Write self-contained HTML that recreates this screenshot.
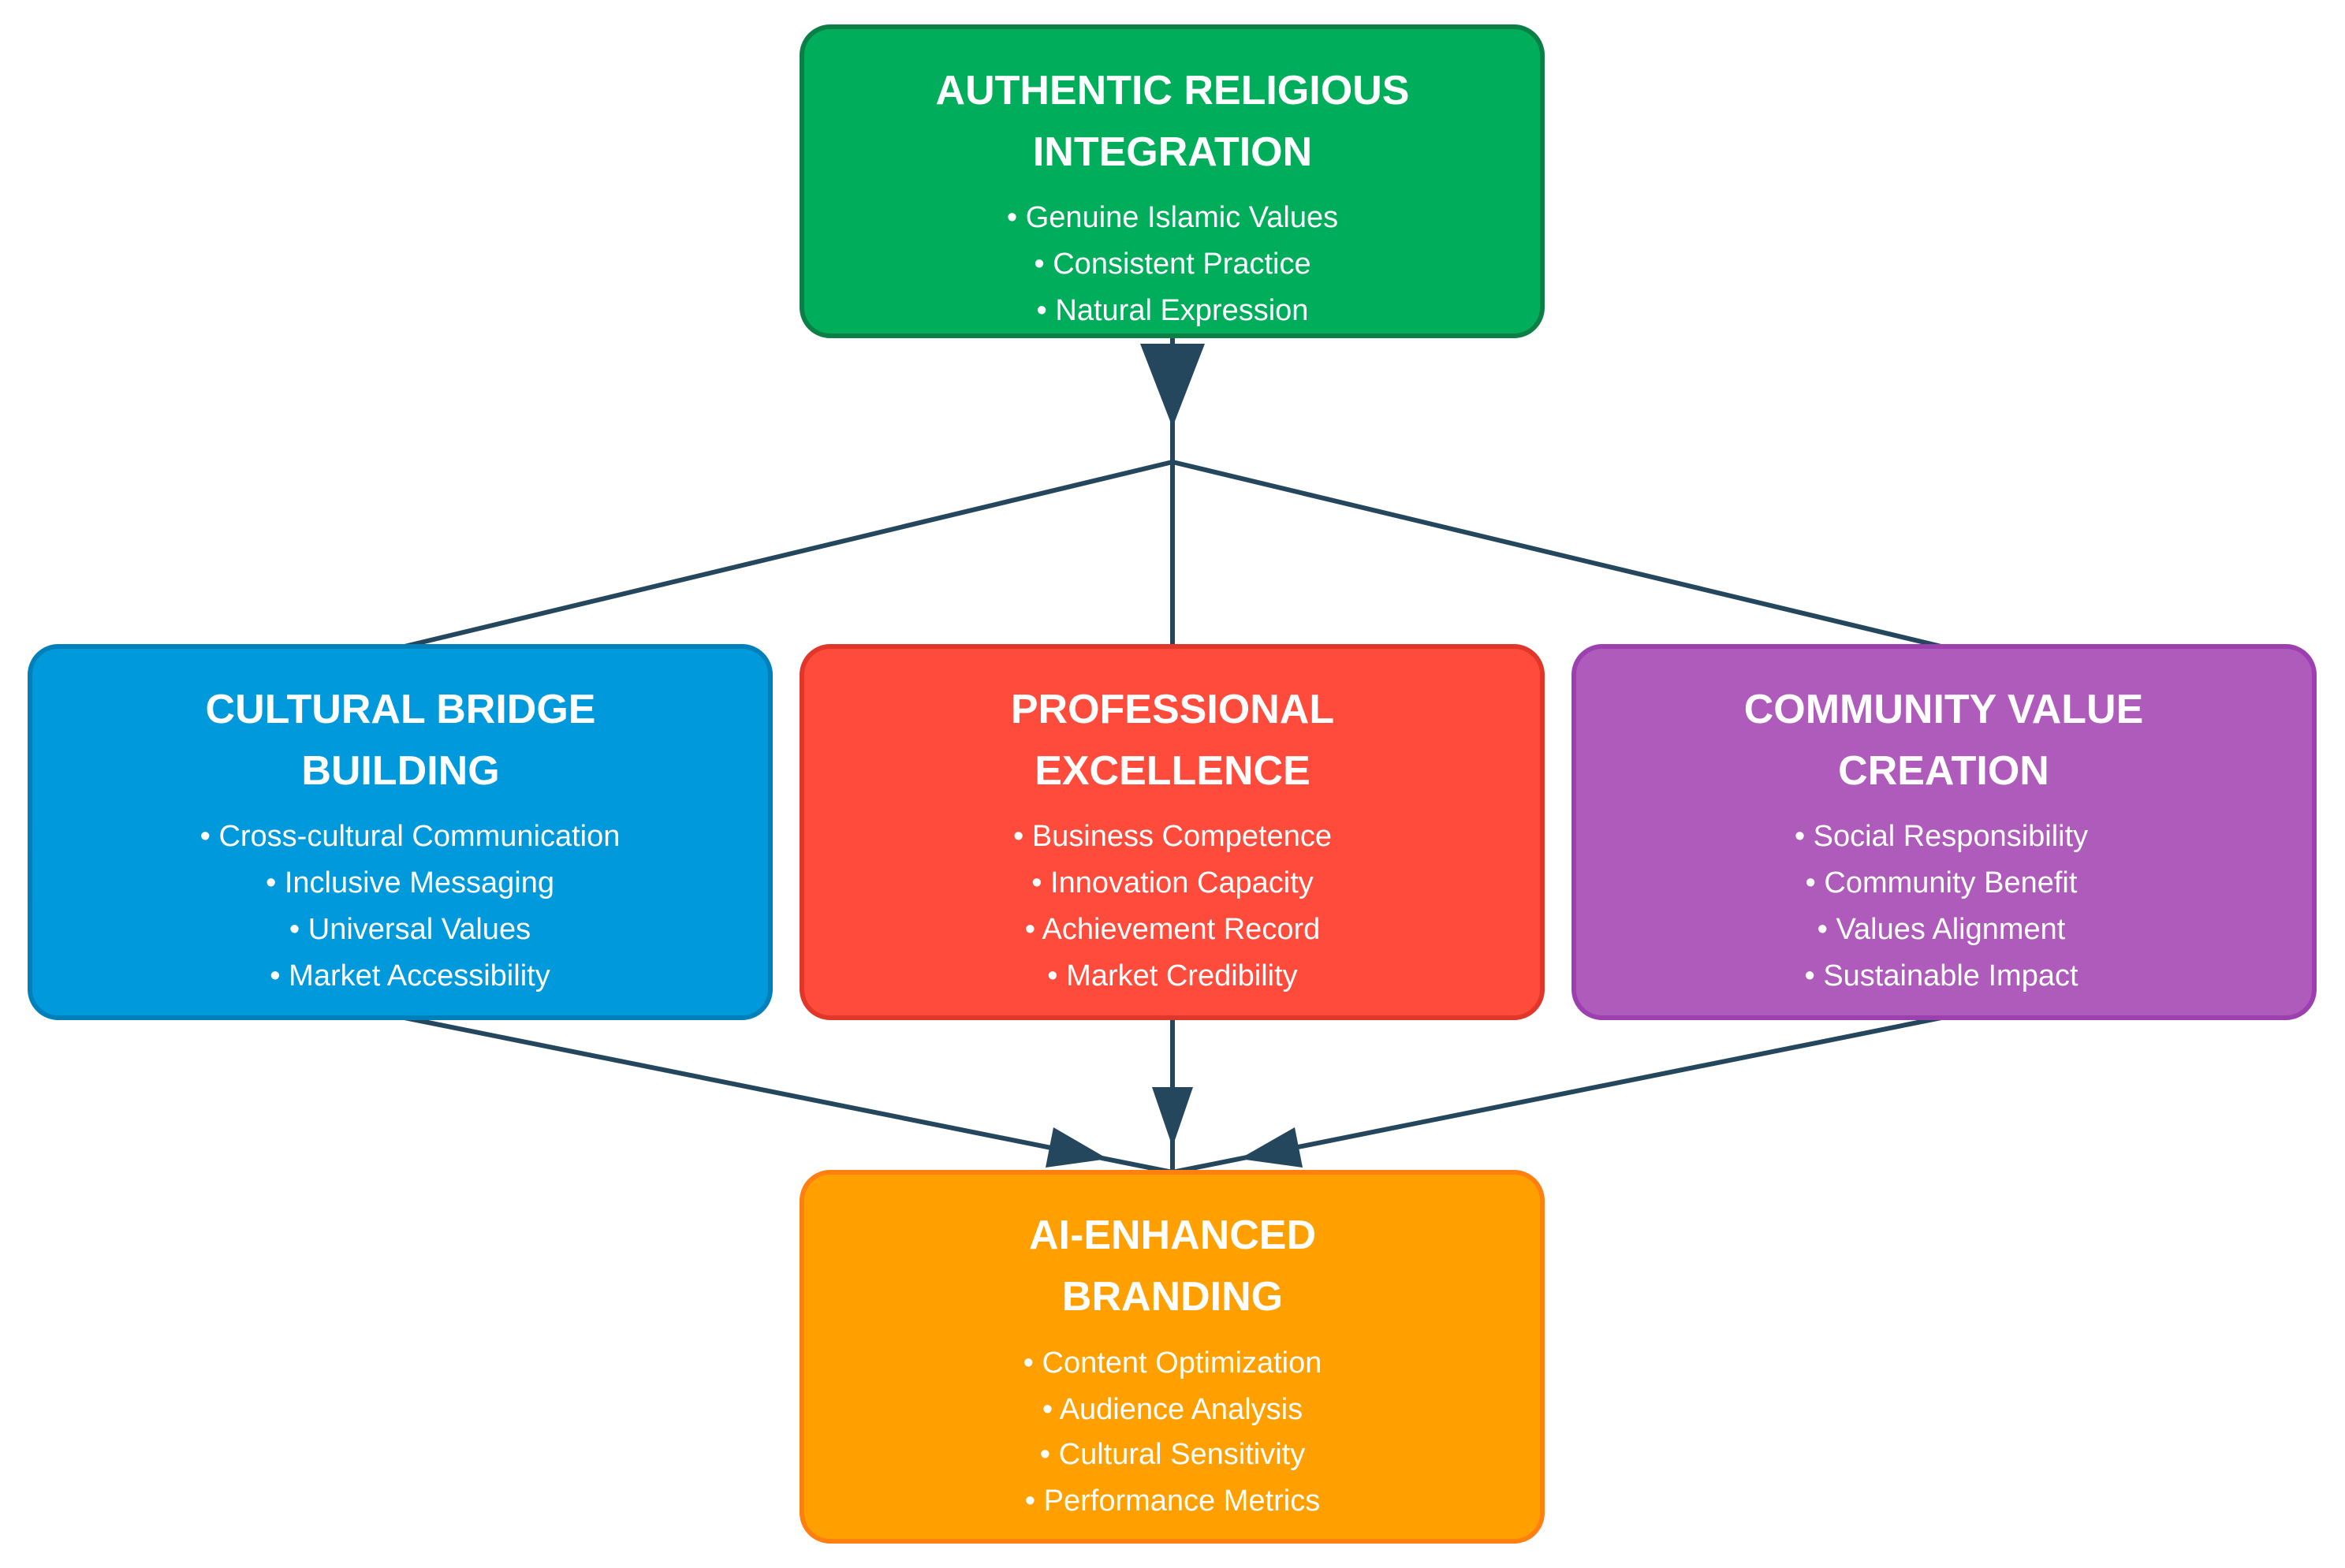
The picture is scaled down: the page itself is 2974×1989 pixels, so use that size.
<!DOCTYPE html>
<html><head><meta charset="utf-8"><style>
html,body{margin:0;padding:0;background:#fff;width:2974px;height:1989px;overflow:hidden}
svg{display:block}
text{font-family:"Liberation Sans",Arial,sans-serif;fill:#fff;text-anchor:middle}
.t{font-weight:bold;font-size:52px}
.b{font-size:38px}
</style></head><body>
<svg width="2974" height="1989" viewBox="0 0 2974 1989">
<g stroke="#25475e" stroke-width="6" fill="none">
<line x1="1487" y1="426" x2="1487" y2="586"/>
<line x1="1487" y1="586" x2="513" y2="820"/>
<line x1="1487" y1="586" x2="2462" y2="820"/>
<line x1="1487" y1="586" x2="1487" y2="820"/>
<line x1="513" y1="1291" x2="1487" y2="1487"/>
<line x1="2462" y1="1291" x2="1487" y2="1487"/>
<line x1="1487" y1="1291" x2="1487" y2="1487"/>
</g>
<g fill="#25475e">
<polygon points="1446,436 1528,436 1487,542"/>
<polygon points="1461,1379 1513,1379 1487,1455"/>
<polygon points="1336,1430 1326,1481 1405,1470"/>
<polygon points="1652,1481 1642,1430 1572,1470"/>
</g>
<g stroke-width="6">
<rect x="1017" y="34" width="939" height="392" rx="36" fill="#00ad5b" stroke="#0b7f45"/>
<rect x="38" y="820" width="939" height="471" rx="36" fill="#0099dc" stroke="#0080bb"/>
<rect x="1017" y="820" width="939" height="471" rx="36" fill="#ff4b3b" stroke="#e0372a"/>
<rect x="1996" y="820" width="939" height="471" rx="36" fill="#ae5bbb" stroke="#9b40ae"/>
<rect x="1017" y="1487" width="939" height="468" rx="36" fill="#ffa000" stroke="#ff8010"/>
</g>
<text class="t" x="1487" y="132">AUTHENTIC RELIGIOUS</text>
<text class="t" x="1487" y="210">INTEGRATION</text>
<text class="b" x="1487" y="288">• Genuine Islamic Values</text>
<text class="b" x="1487" y="347">• Consistent Practice</text>
<text class="b" x="1487" y="406">• Natural Expression</text>

<text class="t" x="508" y="917">CULTURAL BRIDGE</text>
<text class="t" x="508" y="995">BUILDING</text>
<text class="b" x="520" y="1073">• Cross-cultural Communication</text>
<text class="b" x="520" y="1132">• Inclusive Messaging</text>
<text class="b" x="520" y="1191">• Universal Values</text>
<text class="b" x="520" y="1250">• Market Accessibility</text>

<text class="t" x="1487" y="917">PROFESSIONAL</text>
<text class="t" x="1487" y="995">EXCELLENCE</text>
<text class="b" x="1487" y="1073">• Business Competence</text>
<text class="b" x="1487" y="1132">• Innovation Capacity</text>
<text class="b" x="1487" y="1191">• Achievement Record</text>
<text class="b" x="1487" y="1250">• Market Credibility</text>

<text class="t" x="2465" y="917">COMMUNITY VALUE</text>
<text class="t" x="2465" y="995">CREATION</text>
<text class="b" x="2462" y="1073">• Social Responsibility</text>
<text class="b" x="2462" y="1132">• Community Benefit</text>
<text class="b" x="2462" y="1191">• Values Alignment</text>
<text class="b" x="2462" y="1250">• Sustainable Impact</text>

<text class="t" x="1487" y="1584">AI-ENHANCED</text>
<text class="t" x="1487" y="1662">BRANDING</text>
<text class="b" x="1487" y="1741">• Content Optimization</text>
<text class="b" x="1487" y="1800">• Audience Analysis</text>
<text class="b" x="1487" y="1857">• Cultural Sensitivity</text>
<text class="b" x="1487" y="1916">• Performance Metrics</text>
</svg>
</body></html>
